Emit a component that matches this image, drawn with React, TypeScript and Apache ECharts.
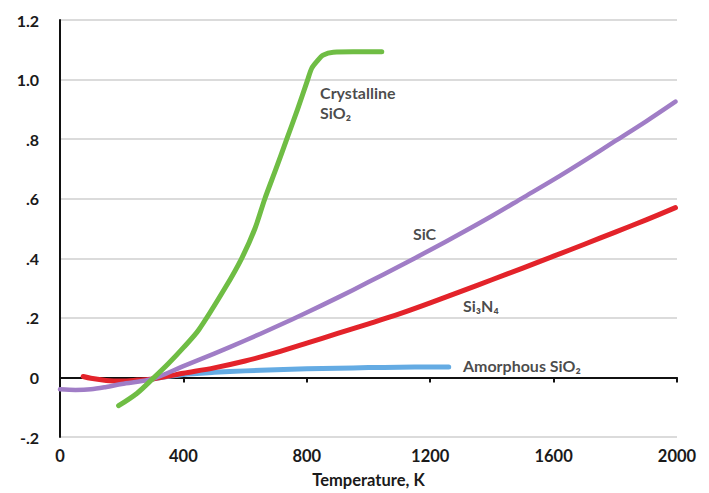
import React, { useEffect, useRef } from "react";
import * as echarts from "echarts";

// Temperature (K) and value arrays for each material
const crystT = [190, 250, 300, 350, 400, 450, 535, 589, 632, 664, 700, 735, 770, 803, 816, 832, 853, 886, 950, 1043];
const crystV = [-0.095, -0.053, -0.005, 0.045, 0.1, 0.16, 0.3, 0.4, 0.5, 0.6, 0.7, 0.8, 0.9, 1.0, 1.038, 1.06, 1.082, 1.092, 1.093, 1.093];

const sicT = [0, 50, 100, 150, 200, 300, 400, 500, 600, 700, 800, 900, 1000, 1100, 1200, 1300, 1400, 1500, 1600, 1700, 1800, 1900, 1995];
const sicV = [-0.04, -0.042, -0.04, -0.032, -0.022, -0.005, 0.038, 0.08, 0.124, 0.17, 0.218, 0.268, 0.32, 0.373, 0.428, 0.484, 0.542, 0.603, 0.664, 0.728, 0.794, 0.86, 0.926];

const si3n4T = [75, 100, 150, 200, 250, 300, 400, 500, 600, 700, 800, 900, 1000, 1100, 1200, 1300, 1400, 1500, 1600, 1700, 1800, 1900, 1995];
const si3n4V = [0.003, -0.003, -0.01, -0.012, -0.009, -0.005, 0.014, 0.032, 0.055, 0.083, 0.115, 0.148, 0.18, 0.213, 0.25, 0.289, 0.328, 0.367, 0.407, 0.447, 0.488, 0.529, 0.57];

const amorT = [300, 400, 500, 600, 700, 800, 900, 1000, 1100, 1200, 1260];
const amorV = [-0.005, 0.01, 0.017, 0.022, 0.026, 0.029, 0.031, 0.033, 0.034, 0.035, 0.035];

const yTickLabels = ["-.2", "0", ".2", ".4", ".6", ".8", "1.0", "1.2"];
const xTickLabels = ["0", "400", "800", "1200", "1600", "2000"];

// annotation labels: text, temperature, value
const annotations: { text: string; t: number; v: number }[] = [
  { text: "Crystalline", t: 843, v: 0.957 },
  { text: "SiO₂", t: 843, v: 0.89 },
  { text: "SiC", t: 1144, v: 0.484 },
  { text: "Si₃N₄", t: 1306, v: 0.243 },
  { text: "Amorphous SiO₂", t: 1306, v: 0.04 },
];

const zip = (a: number[], b: number[]) => a.map((x, i) => [x, b[i]]);

const FONT = "Lato, 'Open Sans', sans-serif";
const TEXT = "#1a1a1a";

export default function App() {
  const ref = useRef<HTMLDivElement>(null);
  useEffect(() => {
    if (!ref.current) return;
    const chart = echarts.init(ref.current, undefined, { renderer: "svg" });
    const lineSeries = (name: string, t: number[], v: number[], color: string, width: number, z: number) => ({
      type: "line",
      name,
      data: zip(t, v),
      showSymbol: false,
      symbol: "none",
      smooth: 0.3,
      z,
      lineStyle: { color, width, cap: "round", join: "round" },
    });
    chart.setOption({
      animation: false,
      backgroundColor: "#ffffff",
      grid: { left: 60, right: 32, top: 20, bottom: 50, containLabel: false },
      xAxis: {
        type: "value",
        min: 0,
        max: 2000,
        interval: 400,
        name: "Temperature, K",
        nameLocation: "middle",
        nameGap: 34,
        nameTextStyle: { fontFamily: FONT, fontWeight: "bold", fontSize: 16.5, color: TEXT },
        axisLine: { show: true, lineStyle: { color: "#111", width: 2 } },
        axisTick: { show: true, length: 5, lineStyle: { color: "#111", width: 2 } },
        splitLine: { show: false },
        axisLabel: {
          margin: 10,
          fontFamily: FONT,
          fontWeight: "bold",
          fontSize: 16.5,
          color: TEXT,
          formatter: (val: number) => xTickLabels[Math.round(val / 400)] ?? String(val),
        },
      },
      yAxis: {
        type: "value",
        min: -0.2,
        max: 1.2,
        interval: 0.2,
        axisLine: { show: true, onZero: false, lineStyle: { color: "#111", width: 2 } },
        axisTick: { show: false },
        splitLine: { show: true, lineStyle: { color: "#cfcfcf", width: 1.5 } },
        axisLabel: {
          margin: 21,
          fontFamily: FONT,
          fontWeight: "bold",
          fontSize: 16,
          color: TEXT,
          formatter: (val: number) => yTickLabels[Math.round((val + 0.2) / 0.2)] ?? String(val),
        },
      },
      series: [
        lineSeries("Amorphous SiO₂", amorT, amorV, "#64abe3", 5, 2),
        lineSeries("Si₃N₄", si3n4T, si3n4V, "#e3232a", 5, 3),
        lineSeries("SiC", sicT, sicV, "#a07dc6", 4.5, 4),
        lineSeries("Crystalline SiO₂", crystT, crystV, "#6fbd44", 5, 5),
        {
          type: "scatter",
          name: "labels",
          data: annotations.map((a) => [a.t, a.v, a.text]),
          symbolSize: 0,
          z: 6,
          silent: true,
          label: {
            show: true,
            position: "right",
            distance: 0,
            lineHeight: 17,
            formatter: (p: any) => p.data[2],
            fontFamily: FONT,
            fontWeight: "bold",
            fontSize: 16,
            color: TEXT,
          },
        },
      ],
    });
    return () => chart.dispose();
  }, []);
  return <div ref={ref} style={{ width: 709, height: 493, position: "absolute", left: 0, top: 0 }} />;
}
